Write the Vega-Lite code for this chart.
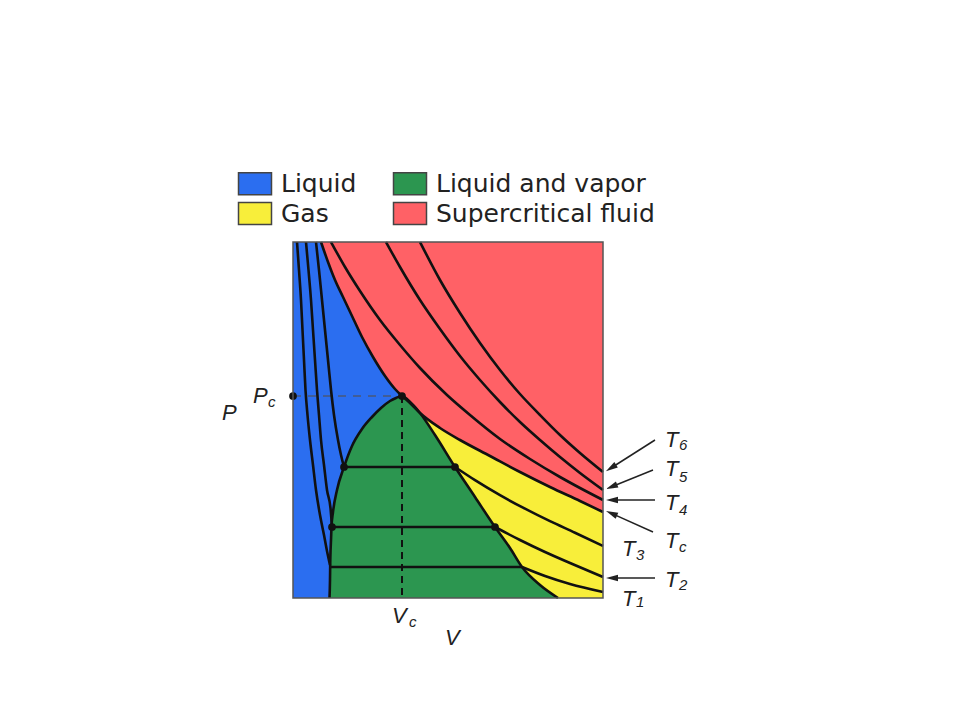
{
  "$schema": "https://vega.github.io/schema/vega-lite/v6.json",
  "width": 310,
  "height": 356,
  "autosize": {"type": "none"},
  "padding": {"left": 293, "top": 242, "right": 357, "bottom": 122},
  "background": "white",
  "config": {
    "view": {"stroke": null},
    "legend": {
      "orient": "none",
      "legendX": -50.5,
      "legendY": -71,
      "columns": 2,
      "direction": "vertical",
      "symbolType": "M-1.5,-1H1.5V1H-1.5Z",
      "symbolSize": 484,
      "symbolStrokeColor": "#444",
      "symbolStrokeWidth": 1.5,
      "symbolOpacity": 1,
      "labelFont": "DejaVu Sans",
      "labelFontSize": 25,
      "labelColor": "#222",
      "labelOffset": 13.5,
      "labelLimit": 400,
      "columnPadding": 34,
      "rowPadding": 1,
      "padding": 0,
      "title": null
    }
  },
  "datasets": {
    "box": [{"V": 0, "P": 0, "V2": 310, "P2": 356}],
    "tc": [
      {"V": 28, "P": 356}, {"V": 35, "P": 336}, {"V": 42, "P": 318}, {"V": 50, "P": 301},
      {"V": 59, "P": 282}, {"V": 69, "P": 261}, {"V": 80, "P": 241}, {"V": 92, "P": 222},
      {"V": 102, "P": 209}, {"V": 109, "P": 202}, {"V": 117, "P": 195}, {"V": 127, "P": 185},
      {"V": 147, "P": 170}, {"V": 167, "P": 158}, {"V": 197, "P": 142}, {"V": 227, "P": 126},
      {"V": 257, "P": 111}, {"V": 287, "P": 97}, {"V": 310, "P": 86}
    ],
    "dome": [
      {"V": 36.5, "P": 0}, {"V": 37, "P": 18}, {"V": 37.2, "P": 33}, {"V": 38, "P": 58},
      {"V": 38.5, "P": 71}, {"V": 40, "P": 86}, {"V": 44, "P": 108}, {"V": 51, "P": 131},
      {"V": 59, "P": 152}, {"V": 69, "P": 169}, {"V": 79, "P": 181}, {"V": 88, "P": 190},
      {"V": 97, "P": 197}, {"V": 103, "P": 200}, {"V": 109, "P": 202}, {"V": 115, "P": 198},
      {"V": 121, "P": 192}, {"V": 127, "P": 185}, {"V": 142, "P": 163}, {"V": 162, "P": 131},
      {"V": 182, "P": 101}, {"V": 202, "P": 71}, {"V": 217, "P": 50}, {"V": 229, "P": 31},
      {"V": 247, "P": 13}, {"V": 265, "P": 0}
    ],
    "iso": [
      {"c": "T6", "V": 127, "P": 356}, {"c": "T6", "V": 147, "P": 318}, {"c": "T6", "V": 167, "P": 285},
      {"c": "T6", "V": 187, "P": 255}, {"c": "T6", "V": 207, "P": 228}, {"c": "T6", "V": 227, "P": 204},
      {"c": "T6", "V": 247, "P": 183}, {"c": "T6", "V": 267, "P": 163}, {"c": "T6", "V": 287, "P": 145},
      {"c": "T6", "V": 310, "P": 126},
      {"c": "T5", "V": 93, "P": 356}, {"c": "T5", "V": 107, "P": 331}, {"c": "T5", "V": 127, "P": 298},
      {"c": "T5", "V": 147, "P": 269}, {"c": "T5", "V": 167, "P": 242}, {"c": "T5", "V": 187, "P": 218},
      {"c": "T5", "V": 207, "P": 196}, {"c": "T5", "V": 227, "P": 176}, {"c": "T5", "V": 247, "P": 158},
      {"c": "T5", "V": 267, "P": 141}, {"c": "T5", "V": 287, "P": 125}, {"c": "T5", "V": 310, "P": 108},
      {"c": "T4", "V": 38, "P": 356}, {"c": "T4", "V": 52, "P": 331}, {"c": "T4", "V": 67, "P": 307},
      {"c": "T4", "V": 87, "P": 278}, {"c": "T4", "V": 107, "P": 253}, {"c": "T4", "V": 127, "P": 230},
      {"c": "T4", "V": 154, "P": 203}, {"c": "T4", "V": 177, "P": 183}, {"c": "T4", "V": 207, "P": 159},
      {"c": "T4", "V": 237, "P": 139}, {"c": "T4", "V": 267, "P": 121}, {"c": "T4", "V": 287, "P": 110},
      {"c": "T4", "V": 310, "P": 98},
      {"c": "T3a", "V": 23, "P": 356}, {"c": "T3a", "V": 26, "P": 328}, {"c": "T3a", "V": 29, "P": 298},
      {"c": "T3a", "V": 32, "P": 268}, {"c": "T3a", "V": 35, "P": 238}, {"c": "T3a", "V": 38, "P": 208},
      {"c": "T3a", "V": 41, "P": 183}, {"c": "T3a", "V": 45, "P": 158}, {"c": "T3a", "V": 48, "P": 143},
      {"c": "T3a", "V": 51, "P": 131},
      {"c": "T3t", "V": 51, "P": 131}, {"c": "T3t", "V": 162, "P": 131},
      {"c": "T3g", "V": 162, "P": 131}, {"c": "T3g", "V": 182, "P": 117.8}, {"c": "T3g", "V": 207, "P": 102.8},
      {"c": "T3g", "V": 232, "P": 89.3}, {"c": "T3g", "V": 257, "P": 76.8}, {"c": "T3g", "V": 282, "P": 65.3},
      {"c": "T3g", "V": 310, "P": 52},
      {"c": "T2a", "V": 13, "P": 356}, {"c": "T2a", "V": 15.5, "P": 328}, {"c": "T2a", "V": 18, "P": 298},
      {"c": "T2a", "V": 20, "P": 268}, {"c": "T2a", "V": 22, "P": 238}, {"c": "T2a", "V": 24, "P": 208},
      {"c": "T2a", "V": 26, "P": 183}, {"c": "T2a", "V": 28, "P": 158}, {"c": "T2a", "V": 31, "P": 133},
      {"c": "T2a", "V": 34, "P": 108}, {"c": "T2a", "V": 37.5, "P": 90}, {"c": "T2a", "V": 39, "P": 71},
      {"c": "T2t", "V": 39, "P": 71}, {"c": "T2t", "V": 202, "P": 71},
      {"c": "T2g", "V": 202, "P": 71}, {"c": "T2g", "V": 227, "P": 58}, {"c": "T2g", "V": 252, "P": 46},
      {"c": "T2g", "V": 277, "P": 35}, {"c": "T2g", "V": 310, "P": 21},
      {"c": "T1a", "V": 4, "P": 356}, {"c": "T1a", "V": 6, "P": 328}, {"c": "T1a", "V": 8, "P": 298},
      {"c": "T1a", "V": 9.5, "P": 268}, {"c": "T1a", "V": 11, "P": 238}, {"c": "T1a", "V": 12.5, "P": 208},
      {"c": "T1a", "V": 14.5, "P": 183}, {"c": "T1a", "V": 17, "P": 158}, {"c": "T1a", "V": 20, "P": 133},
      {"c": "T1a", "V": 23, "P": 108}, {"c": "T1a", "V": 27, "P": 83}, {"c": "T1a", "V": 31, "P": 63},
      {"c": "T1a", "V": 34, "P": 47}, {"c": "T1a", "V": 37, "P": 33},
      {"c": "T1t", "V": 37, "P": 31}, {"c": "T1t", "V": 229, "P": 31},
      {"c": "T1g", "V": 229, "P": 31}, {"c": "T1g", "V": 252, "P": 22}, {"c": "T1g", "V": 277, "P": 14},
      {"c": "T1g", "V": 310, "P": 6}
    ],
    "guides": [
      {"k": "h", "V": 0, "P": 202, "V2": 109, "P2": 202},
      {"k": "v", "V": 109, "P": 202, "V2": 109, "P2": 0}
    ],
    "dots": [
      {"V": 0, "P": 202}, {"V": 109, "P": 202}, {"V": 51, "P": 131},
      {"V": 162, "P": 131}, {"V": 39, "P": 71}, {"V": 202, "P": 71}
    ],
    "arrows": [
      {"V": 362, "P": 158, "V2": 318, "P2": 130, "a": 238},
      {"V": 360, "P": 128, "V2": 318.6, "P2": 111.3, "a": 248},
      {"V": 362, "P": 98, "V2": 319, "P2": 98, "a": 270},
      {"V": 360, "P": 66, "V2": 318.5, "P2": 84.6, "a": 294},
      {"V": 362, "P": 20, "V2": 319, "P2": 20, "a": 270}
    ],
    "mainlabels": [
      {"V": 372, "P": 151, "t": "T"}, {"V": 372, "P": 122, "t": "T"}, {"V": 372, "P": 88, "t": "T"},
      {"V": 372, "P": 50, "t": "T"}, {"V": 329, "P": 42, "t": "T"}, {"V": 372, "P": 11, "t": "T"},
      {"V": 329, "P": -8, "t": "T"}, {"V": -71, "P": 178, "t": "P"}, {"V": -40, "P": 195, "t": "P"},
      {"V": 99, "P": -25, "t": "V"}, {"V": 152, "P": -47, "t": "V"}
    ],
    "sublabels": [
      {"V": 386, "P": 148, "t": "6"}, {"V": 386, "P": 116, "t": "5"}, {"V": 386, "P": 83, "t": "4"},
      {"V": 386, "P": 46, "t": "c"}, {"V": 343, "P": 38, "t": "3"}, {"V": 386, "P": 8, "t": "2"},
      {"V": 343, "P": -9, "t": "1"}, {"V": -25, "P": 191, "t": "c"}, {"V": 116, "P": -29, "t": "c"}
    ]
  },
  "layer": [
    {
      "data": {"name": "box"},
      "mark": {"type": "rect"},
      "encoding": {
        "x": {"field": "V", "type": "quantitative", "scale": {"domain": [0, 310], "nice": false, "zero": false}, "axis": null},
        "x2": {"field": "V2"},
        "y": {"field": "P", "type": "quantitative", "scale": {"domain": [0, 356], "nice": false, "zero": false}, "axis": null},
        "y2": {"field": "P2"},
        "color": {"datum": "Liquid", "type": "nominal",
          "scale": {"domain": ["Liquid", "Gas", "Liquid and vapor", "Supercritical fluid"],
                    "range": ["#2b6ef0", "#f8ee3a", "#2c9650", "#ff6166"]}}
      }
    },
    {
      "data": {"name": "tc"},
      "mark": {"type": "area", "interpolate": "monotone"},
      "encoding": {
        "x": {"field": "V", "type": "quantitative", "scale": {"domain": [0, 310], "nice": false, "zero": false}, "axis": null},
        "y": {"field": "P", "type": "quantitative", "scale": {"domain": [0, 356], "nice": false, "zero": false}, "axis": null},
        "y2": {"datum": 356},
        "color": {"datum": "Supercritical fluid", "type": "nominal"}
      }
    },
    {
      "data": {"name": "tc"},
      "transform": [{"filter": "datum.V >= 109"}],
      "mark": {"type": "area", "interpolate": "monotone"},
      "encoding": {
        "x": {"field": "V", "type": "quantitative", "scale": {"domain": [0, 310], "nice": false, "zero": false}, "axis": null},
        "y": {"field": "P", "type": "quantitative", "scale": {"domain": [0, 356], "nice": false, "zero": false}, "axis": null},
        "y2": {"datum": 0},
        "color": {"datum": "Gas", "type": "nominal"}
      }
    },
    {
      "data": {"name": "dome"},
      "mark": {"type": "area", "interpolate": "monotone"},
      "encoding": {
        "x": {"field": "V", "type": "quantitative", "scale": {"domain": [0, 310], "nice": false, "zero": false}, "axis": null},
        "y": {"field": "P", "type": "quantitative", "scale": {"domain": [0, 356], "nice": false, "zero": false}, "axis": null},
        "y2": {"datum": 0},
        "color": {"datum": "Liquid and vapor", "type": "nominal"}
      }
    },
    {
      "data": {"name": "guides"},
      "transform": [{"filter": "datum.k == 'h'"}],
      "mark": {"type": "rule", "color": "#4a5878", "strokeWidth": 1.5, "strokeDash": [8, 7]},
      "encoding": {
        "x": {"field": "V", "type": "quantitative", "scale": {"domain": [0, 310], "nice": false, "zero": false}, "axis": null},
        "x2": {"field": "V2"},
        "y": {"field": "P", "type": "quantitative", "scale": {"domain": [0, 356], "nice": false, "zero": false}, "axis": null},
        "y2": {"field": "P2"}
      }
    },
    {
      "data": {"name": "guides"},
      "transform": [{"filter": "datum.k == 'v'"}],
      "mark": {"type": "rule", "color": "#111", "strokeWidth": 2, "strokeDash": [7, 5]},
      "encoding": {
        "x": {"field": "V", "type": "quantitative", "scale": {"domain": [0, 310], "nice": false, "zero": false}, "axis": null},
        "x2": {"field": "V2"},
        "y": {"field": "P", "type": "quantitative", "scale": {"domain": [0, 356], "nice": false, "zero": false}, "axis": null},
        "y2": {"field": "P2"}
      }
    },
    {
      "data": {"name": "dome"},
      "mark": {"type": "line", "interpolate": "monotone", "color": "#111", "strokeWidth": 2.6},
      "encoding": {
        "x": {"field": "V", "type": "quantitative", "scale": {"domain": [0, 310], "nice": false, "zero": false}, "axis": null},
        "y": {"field": "P", "type": "quantitative", "scale": {"domain": [0, 356], "nice": false, "zero": false}, "axis": null}
      }
    },
    {
      "data": {"name": "tc"},
      "mark": {"type": "line", "interpolate": "monotone", "color": "#111", "strokeWidth": 2.6},
      "encoding": {
        "x": {"field": "V", "type": "quantitative", "scale": {"domain": [0, 310], "nice": false, "zero": false}, "axis": null},
        "y": {"field": "P", "type": "quantitative", "scale": {"domain": [0, 356], "nice": false, "zero": false}, "axis": null}
      }
    },
    {
      "data": {"name": "iso"},
      "mark": {"type": "line", "interpolate": "monotone", "color": "#111", "strokeWidth": 2.6},
      "encoding": {
        "x": {"field": "V", "type": "quantitative", "scale": {"domain": [0, 310], "nice": false, "zero": false}, "axis": null},
        "y": {"field": "P", "type": "quantitative", "scale": {"domain": [0, 356], "nice": false, "zero": false}, "axis": null},
        "detail": {"field": "c", "type": "nominal"}
      }
    },
    {
      "data": {"name": "dots"},
      "mark": {"type": "point", "filled": true, "color": "#111", "size": 60, "opacity": 1},
      "encoding": {
        "x": {"field": "V", "type": "quantitative", "scale": {"domain": [0, 310], "nice": false, "zero": false}, "axis": null},
        "y": {"field": "P", "type": "quantitative", "scale": {"domain": [0, 356], "nice": false, "zero": false}, "axis": null}
      }
    },
    {
      "data": {"name": "box"},
      "mark": {"type": "rect", "fill": null, "stroke": "#555", "strokeWidth": 1.5},
      "encoding": {
        "x": {"field": "V", "type": "quantitative", "scale": {"domain": [0, 310], "nice": false, "zero": false}, "axis": null},
        "x2": {"field": "V2"},
        "y": {"field": "P", "type": "quantitative", "scale": {"domain": [0, 356], "nice": false, "zero": false}, "axis": null},
        "y2": {"field": "P2"}
      }
    },
    {
      "data": {"name": "arrows"},
      "mark": {"type": "rule", "color": "#222", "strokeWidth": 1.5},
      "encoding": {
        "x": {"field": "V", "type": "quantitative", "scale": {"domain": [0, 310], "nice": false, "zero": false}, "axis": null},
        "x2": {"field": "V2"},
        "y": {"field": "P", "type": "quantitative", "scale": {"domain": [0, 356], "nice": false, "zero": false}, "axis": null},
        "y2": {"field": "P2"}
      }
    },
    {
      "data": {"name": "arrows"},
      "mark": {"type": "point", "shape": "M0,-1L0.55,1L-0.55,1Z", "filled": true, "color": "#222", "size": 144, "opacity": 1},
      "encoding": {
        "x": {"field": "V2", "type": "quantitative", "scale": {"domain": [0, 310], "nice": false, "zero": false}, "axis": null},
        "y": {"field": "P2", "type": "quantitative", "scale": {"domain": [0, 356], "nice": false, "zero": false}, "axis": null},
        "angle": {"field": "a", "type": "quantitative", "scale": null}
      }
    },
    {
      "data": {"name": "mainlabels"},
      "mark": {"type": "text", "font": "Liberation Sans", "fontStyle": "italic", "fontSize": 22, "align": "left", "baseline": "alphabetic", "color": "#222"},
      "encoding": {
        "x": {"field": "V", "type": "quantitative", "scale": {"domain": [0, 310], "nice": false, "zero": false}, "axis": null},
        "y": {"field": "P", "type": "quantitative", "scale": {"domain": [0, 356], "nice": false, "zero": false}, "axis": null},
        "text": {"field": "t", "type": "nominal"}
      }
    },
    {
      "data": {"name": "sublabels"},
      "mark": {"type": "text", "font": "Liberation Sans", "fontStyle": "italic", "fontSize": 15, "align": "left", "baseline": "alphabetic", "color": "#222"},
      "encoding": {
        "x": {"field": "V", "type": "quantitative", "scale": {"domain": [0, 310], "nice": false, "zero": false}, "axis": null},
        "y": {"field": "P", "type": "quantitative", "scale": {"domain": [0, 356], "nice": false, "zero": false}, "axis": null},
        "text": {"field": "t", "type": "nominal"}
      }
    }
  ]
}
